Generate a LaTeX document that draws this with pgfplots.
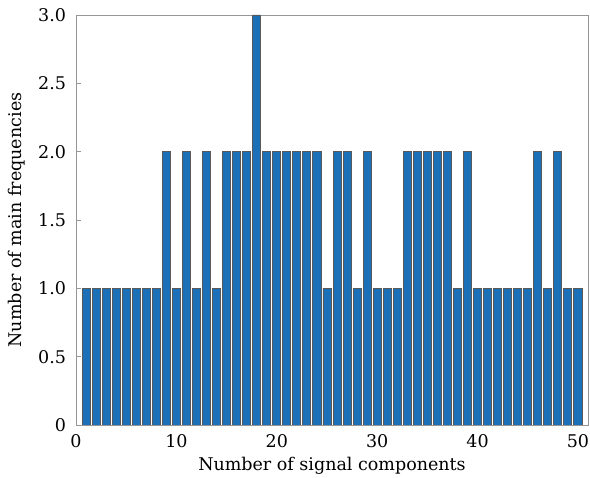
\documentclass[border=0pt]{standalone}
\usepackage{fontspec}
\setmainfont{DejaVu Serif}
\usepackage{pgfplots}
\pgfplotsset{compat=1.18}
\definecolor{barblue}{RGB}{28,112,184}
\definecolor{axgray}{RGB}{150,150,150}
\newcommand{\labfont}{\fontsize{17.5}{21}\selectfont}
\begin{document}
\begin{tikzpicture}
\labfont
\begin{axis}[
  scale only axis,
  width=512pt, height=410pt,
  xmin=0, xmax=51, ymin=0, ymax=3,
  xtick={0,10,20,30,40,50},
  ytick={0,0.5,1,1.5,2,2.5,3},
  yticklabels={0,0.5,1.0,1.5,2.0,2.5,3.0},
  /pgf/number format/assume math mode=true,
  tick align=inside,
  major tick length=5pt,
  axis line style={axgray, line width=0.8pt},
  every tick/.style={axgray, line width=0.8pt},
  xtick pos=bottom, ytick pos=left,
  tick label style={font=\labfont, black},
  yticklabel style={xshift=-4pt},
  xticklabel style={yshift=-3pt},
  xlabel={Number of signal components},
  ylabel={Number of main frequencies},
  xlabel style={font=\labfont, at={(axis description cs:0.5,-0.1)}, anchor=center},
  ylabel style={font=\labfont, at={(axis description cs:-0.115,0.5)}, anchor=center},
]
\coordinate (sw) at (rel axis cs:0,0);
\coordinate (ne) at (rel axis cs:1,1);
\addplot[ybar, bar width=0.8, fill=barblue, draw=black!65, line width=0.9pt]
  table[x=n, y=f] {
n f
1 1
2 1
3 1
4 1
5 1
6 1
7 1
8 1
9 2
10 1
11 2
12 1
13 2
14 1
15 2
16 2
17 2
18 3
19 2
20 2
21 2
22 2
23 2
24 2
25 1
26 2
27 2
28 1
29 2
30 1
31 1
32 1
33 2
34 2
35 2
36 2
37 2
38 1
39 2
40 1
41 1
42 1
43 1
44 1
45 1
46 2
47 1
48 2
49 1
50 1
};
\end{axis}
\pgfresetboundingbox
\path ([shift={(-76pt,-53pt)}]sw) rectangle ([shift={(2pt,15pt)}]ne);
\end{tikzpicture}
\end{document}
